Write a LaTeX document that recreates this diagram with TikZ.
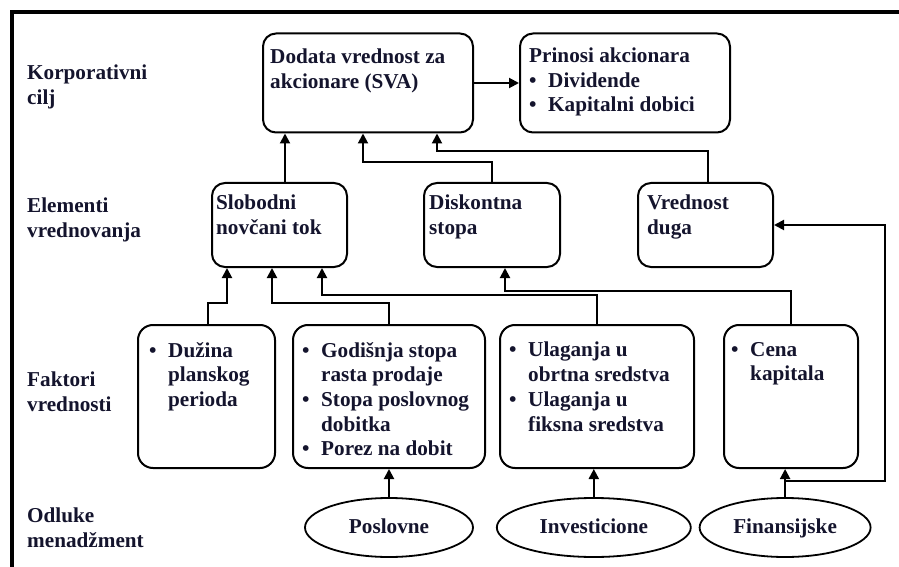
\documentclass[tikz,border=0pt]{standalone}
\usepackage{fontspec}
\setmainfont{Liberation Serif}
\usepackage{tikz}
\usetikzlibrary{positioning}
\usetikzlibrary{arrows.meta}
\usetikzlibrary{shapes}
\definecolor{inkblue}{RGB}{20,20,45}
\newcommand{\bul}{\makebox[19bp][l]{\textbullet}}
\newcommand{\ind}{\hspace*{19bp}}
\tikzset{box node/.style={draw,rounded corners=13bp,line width=2bp,minimum height=84bp,inner sep=0pt},
         factor node/.style={box node,rounded corners=15bp,minimum height=143bp},
         dec node/.style={draw,ellipse,line width=1.8bp,minimum height=59bp,inner sep=0pt,text=inkblue,
                          text height=14bp,text depth=3bp,
                          font=\fontsize{21.2bp}{24.7bp}\selectfont\bfseries},
         txt node/.style={anchor=north west,inner sep=0pt,align=left,text=inkblue,
                          font=\fontsize{21.2bp}{24.7bp}\selectfont\bfseries,
                          execute at begin node=\rule{0pt}{16bp}},
         arr/.style={-{Triangle[length=10bp,width=10bp]},line width=2bp},}

\begin{document}
\begin{tikzpicture}[x=1bp, y=-1bp]
    \useasboundingbox (0,0) rectangle (899,567);
    \draw[line width=4bp] (12,567) -- (12,12) -- (899,12);

    % rows of the diagram
    \node[txt node] (l1) at (27,65)  {Korporativni\\cilj};
    \node[txt node] (l2) at (27,198) {Elementi\\vrednovanja};
    \node[txt node] (l3) at (27,372) {Faktori\\vrednosti};
    \node[txt node] (l4) at (27,508) {Odluke\\menadžment};

    % corporate goal
    \node[box node, minimum width=210bp, minimum height=99bp] (sva) at (368,83) {};
    \node[box node, minimum width=210bp, minimum height=99bp] (pri) [right = 45bp of sva] {};
    \node[txt node] (svat) at ([shift={(8bp,-16bp)}]sva.north west) {Dodata vrednost za\\akcionare (SVA)};
    \node[txt node] (prit) at ([shift={(10bp,-15bp)}]pri.north west) {Prinosi akcionara\\\bul Dividende\\\bul Kapitalni dobici};

    % valuation elements
    \node[box node, minimum width=135bp] (slob) at (279.5,225) {};
    \node[box node, minimum width=136bp] (disk) [right = 75bp of slob] {};
    \node[box node, minimum width=135bp] (duga) [right = 76bp of disk] {};
    \node[txt node] (slobt) at ([shift={(5bp,-13bp)}]slob.north west) {Slobodni\\novčani tok};
    \node[txt node] (diskt) at ([shift={(6bp,-13bp)}]disk.north west) {Diskontna\\stopa};
    \node[txt node] (dugat) at ([shift={(10bp,-13bp)}]duga.north west) {Vrednost\\duga};

    % value drivers
    \node[factor node, minimum width=137bp] (dus) at (206.5,396.5) {};
    \node[factor node, minimum width=192bp] (god) [right = 16bp of dus] {};
    \node[factor node, minimum width=194bp] (ula) [right = 13bp of god] {};
    \node[factor node, minimum width=134bp] (cena) [right = 28bp of ula] {};
    \node[txt node] (dust) at ([shift={(12bp,-18bp)}]dus.north west) {\bul Dužina\\\ind planskog\\\ind perioda};
    \node[txt node] (godt) at ([shift={(10bp,-18bp)}]god.north west) {\bul Godišnja stopa\\\ind rasta prodaje\\\bul Stopa poslovnog\\\ind dobitka\\\bul Porez na dobit};
    \node[txt node] (ulat) at ([shift={(10bp,-18bp)}]ula.north west) {\bul Ulaganja u\\\ind obrtna sredstva\\\bul Ulaganja u\\\ind fiksna sredstva};
    \node[txt node] (cenat) at ([shift={(8bp,-18bp)}]cena.north west) {\bul Cena\\\ind kapitala};

    % management decisions
    \node[dec node, minimum width=168bp] (pos) at (389,527.5) {Poslovne};
    \node[dec node, minimum width=194bp] (inv) [right = 22bp of pos] {Investicione};
    \node[dec node, minimum width=171bp] (fin) [right = 7bp of inv] {Finansijske};

    % connectors
    \coordinate (s1) at ([xshift=5.5bp]slob.north);
    \draw[arr] (sva) -- (pri);
    \draw[arr] (s1) -- (s1 |- sva.south);
    \draw[arr] (disk.north) -- ++(0,-20) -| ([xshift=-5bp]sva.south);
    \draw[arr] ([xshift=2.5bp]duga.north) -- ++(0,-31) -| ([xshift=69bp]sva.south);
    \draw[arr] ([xshift=1.5bp]dus.north) -- ++(0,-21) -| ([xshift=16bp]slob.south west);
    \draw[arr] (god.north) -- ++(0,-21) -| ([xshift=-7.5bp]slob.south);
    \draw[arr] (ula.north) -- ++(0,-29) -| ([xshift=42.5bp]slob.south);
    \draw[arr] (cena.north) -- ++(0,-33) -| ([xshift=13bp]disk.south);
    \draw[arr] (pos.north) -- (pos.north |- god.south);
    \draw[arr] (inv.north) -- (inv.north |- ula.south);
    \draw[arr] (fin.north) -- (fin.north |- cena.south);
    \draw[arr] (fin.north) -- ++(0,-16) -- ++(100,0) |- (duga.east);
\end{tikzpicture}
\end{document}
